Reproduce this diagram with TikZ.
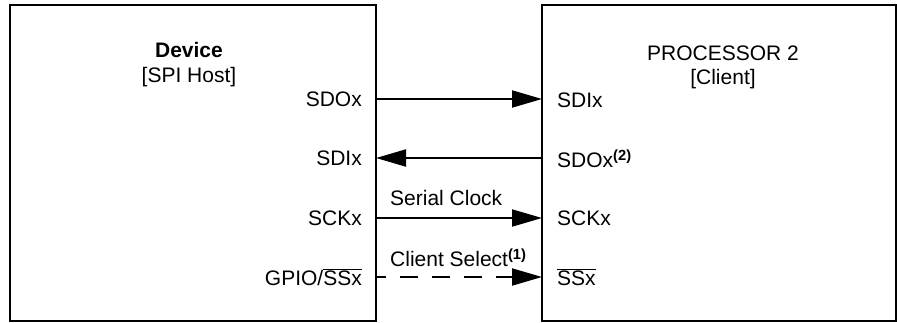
\documentclass[tikz,border=0pt]{standalone}
\usepackage{fontspec}
\setmainfont{Liberation Sans}
\usetikzlibrary{arrows.meta}
\begin{document}
\begin{tikzpicture}[x=1pt,y=-1pt,
  box/.style={draw,line width=2.6pt,inner sep=0pt},
  pinl/.style={anchor=east,inner sep=0pt,font=\fontsize{21}{24}\selectfont},
  pinr/.style={anchor=west,inner sep=0pt,font=\fontsize{21}{24}\selectfont},
  ttl/.style={inner sep=0pt,align=center,font=\fontsize{21}{24}\selectfont},
  lbl/.style={anchor=west,inner sep=0pt,font=\fontsize{21}{24}\selectfont},
  sig/.style={line width=2pt,-{Triangle[length=30pt,width=17pt]}},
  sigd/.style={sig,dash pattern=on 18pt off 14pt,dash phase=8pt}]
\useasboundingbox (0,0) rectangle (897,322);
\draw[box] (10,5) rectangle (376,321);
\draw[box] (542,5) rectangle (896,321);
\coordinate (hostE) at (376,0);
\coordinate (cliW) at (542,0);
% titles
\node[ttl] (dev) at (189,50) {\bfseries Device};
\node[ttl] (devr) at (189,77) {[SPI Host]};
\node[ttl] (proc) at (723,53) {PROCESSOR 2};
\node[ttl] (procr) at (723,79) {[Client]};
% left pins
\node[pinl] (lsdo) at (362,99) {SDOx};
\node[pinl] (lsdi) at (362,158) {SDIx};
\node[pinl] (lsck) at (362,218) {SCKx};
\node[pinl] (lss) at (362,277) {GPIO/$\overline{\mbox{SSx}}$};
% right pins
\node[pinr] (rsdi) at (557,100) {SDIx};
\node[pinr] (rsdo) at (557,159) {SDOx\textsuperscript{\bfseries (2)}};
\node[pinr] (rsck) at (557,218) {SCKx};
\node[pinr] (rss) at (557,277) {$\overline{\mbox{SSx}}$};
% connector endpoints
\coordinate (a1) at (hostE |- 0,99);
\coordinate (b1) at (cliW |- 0,99);
\coordinate (a2) at (hostE |- 0,158);
\coordinate (b2) at (cliW |- 0,158);
\coordinate (a3) at (hostE |- 0,218);
\coordinate (b3) at (cliW |- 0,218);
\coordinate (a4) at (hostE |- 0,277);
\coordinate (b4) at (cliW |- 0,277);
\draw[sig] (a1) -- (b1);
\draw[sig] (b2) -- (a2);
\draw[sig] (a3) -- (b3);
\draw[sigd] (a4) -- (b4);
\node[lbl] (sc) at (390,198) {Serial Clock};
\node[lbl] (cs) at (390,258) {Client Select\textsuperscript{\bfseries (1)}};
\end{tikzpicture}
\end{document}
